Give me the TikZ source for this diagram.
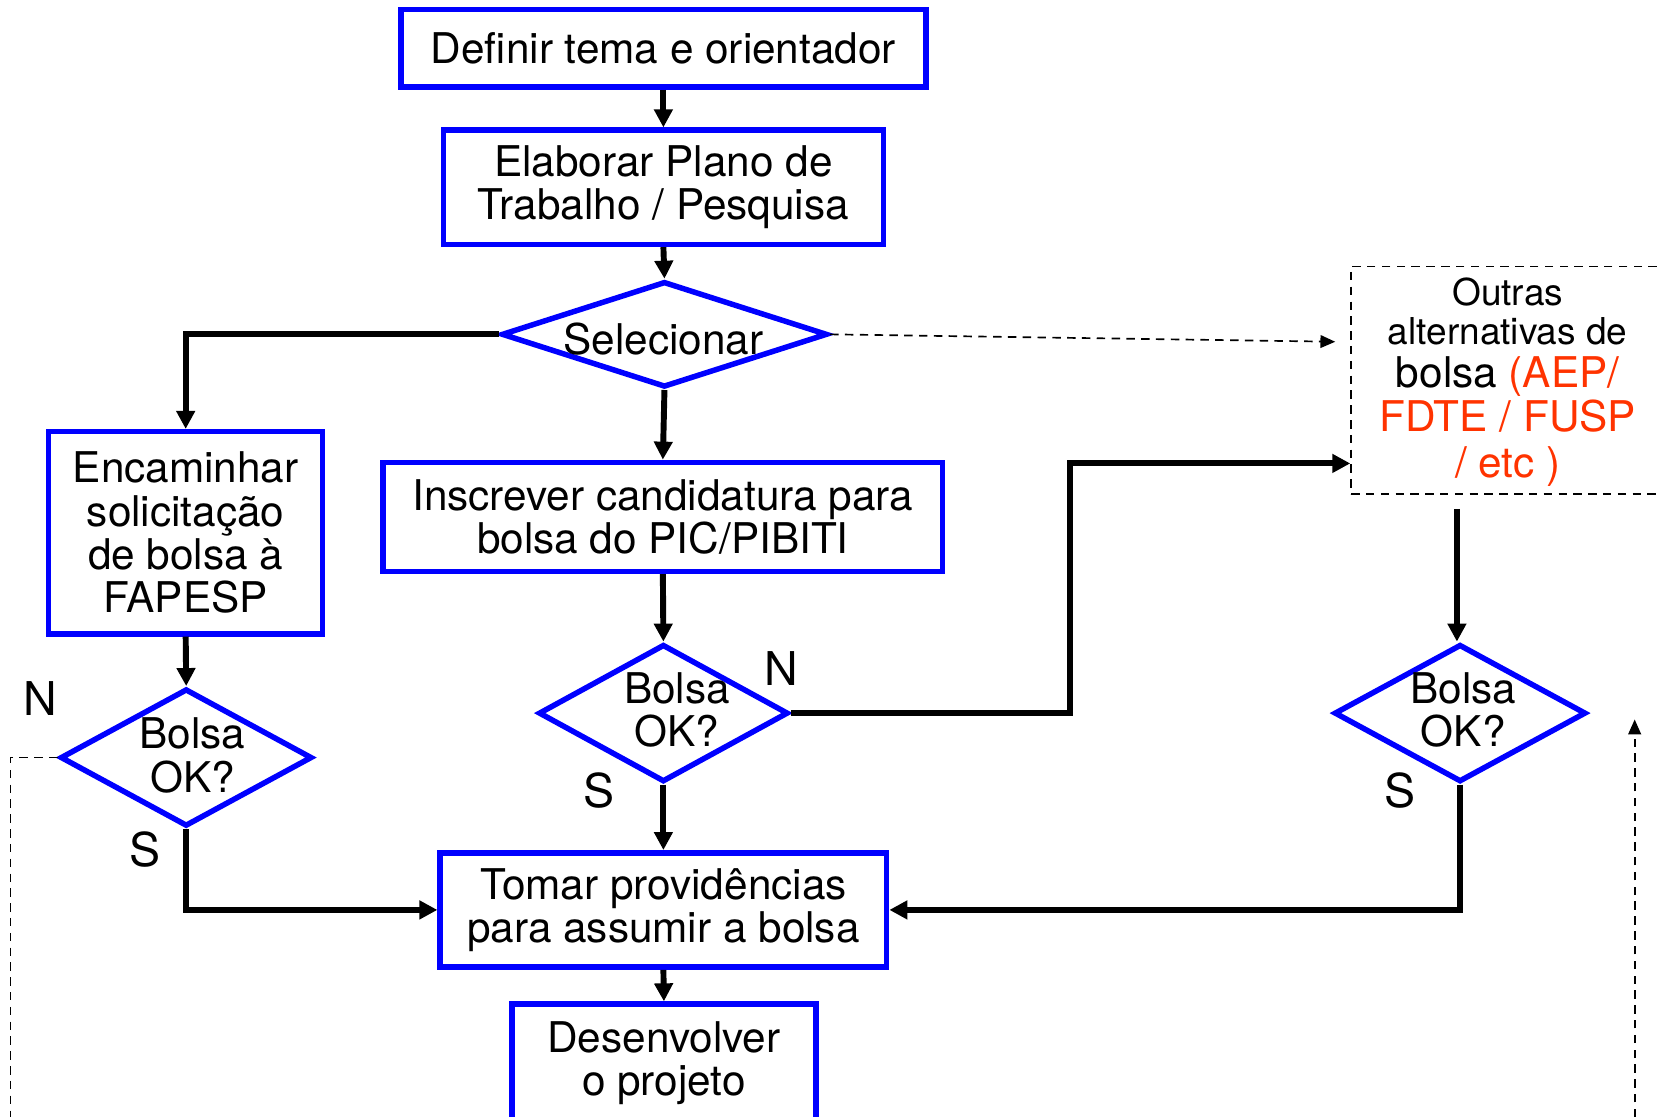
\documentclass[tikz,border=0pt]{standalone}
\usepackage{fontspec}
\setmainfont{TeX Gyre Heros}
\usetikzlibrary{shapes.geometric,arrows.meta}
\definecolor{boxblue}{RGB}{0,0,255}
\definecolor{altred}{RGB}{255,51,0}
\newcommand{\smallalt}{\fontsize{17.5}{18}\selectfont}
\begin{document}
\begin{tikzpicture}[x=0.5pt,y=-0.5pt,
  box/.style={draw=boxblue,line width=2.6pt,rectangle,align=center,inner sep=0pt,font=\fontsize{20}{20.5}\selectfont},
  dia/.style={draw=boxblue,line width=2.6pt,diamond,inner sep=0pt},
  dtext/.style={align=center,inner sep=0pt,font=\fontsize{20}{20.5}\selectfont},
  lbl/.style={inner sep=0pt,font=\fontsize{22}{22}\selectfont},
  flow/.style={line width=2.8pt,-{Triangle[length=8.5pt,width=8.5pt]}},
  dflow/.style={line width=0.8pt,dash pattern=on 4pt off 3pt,-{Triangle[length=7pt,width=6pt]}},
  dplain/.style={line width=0.8pt,dash pattern=on 4pt off 3pt}]
\useasboundingbox (0,0) rectangle (1568,1055);

% boxes
\node[box,minimum width=248pt,minimum height=36.5pt] (def) at (627,45.5) {Definir tema e orientador};
\node[box,minimum width=208pt,minimum height=54pt] (ela) at (627,177) {Elaborar Plano de\\Trabalho / Pesquisa};
\node[dia,minimum width=154pt,minimum height=50pt] (sel) at (628,316) {};
\node[dtext] (selt) at (627,320) {Selecionar};
\node[box,minimum width=129.5pt,minimum height=95.5pt] (enc) at (175.5,503.5) {Encaminhar\\solicitação\\de bolsa à\\FAPESP};
\node[box,minimum width=264.5pt,minimum height=51.5pt] (ins) at (626.5,488.5) {Inscrever candidatura para\\bolsa do PIC/PIBITI};
\node[dia,minimum width=119pt,minimum height=65pt] (ld) at (176,716) {};
\node[dtext] (ldt) at (182,714) {Bolsa\\OK?};
\node[dia,minimum width=118pt,minimum height=65pt] (md) at (627,674) {};
\node[dtext] (mdt) at (640,671) {Bolsa\\OK?};
\node[dia,minimum width=119pt,minimum height=65pt] (rd) at (1380,674) {};
\node[dtext] (rdt) at (1383,671) {Bolsa\\OK?};
\node[box,minimum width=211pt,minimum height=54pt] (tom) at (627,860) {Tomar providências\\para assumir a bolsa};
\node[box,minimum width=143.5pt,minimum height=56pt] (des) at (627.5,1005) {Desenvolver\\o projeto};
\node[draw,dplain,rectangle,minimum width=148pt,minimum height=107.5pt] (out) at (1425,359.5) {};
\node[align=center,inner sep=0pt,font=\fontsize{20}{20.5}\selectfont] (outt) at (1425,361)
  {\smallalt Outras\\[-2pt]
   \smallalt alternativas de\\[-0.5pt]
   bolsa \textcolor{altred}{(AEP/}\\[0.5pt]
   \textcolor{altred}{FDTE / FUSP}\\[1pt]
   \textcolor{altred}{/ etc )}};

% labels
\node[lbl] (nm) at (738,632) {N};
\node[lbl] (sm) at (566,747) {S};
\node[lbl] (sl) at (137,803) {S};
\node[lbl] (sr) at (1323,747) {S};
\node[lbl] (nl) at (38,660) {N};

% helper coordinates
\coordinate (dtip) at (1262,323);
\coordinate (nbend) at (1011,438);
\coordinate (otail) at (1377,481);
\coordinate (lbot) at (10,1070);
\coordinate (rbot) at (1545,1070);
\coordinate (rtop) at (1545,680);

% connectors
\draw[flow] (def.south) -- (ela.north);
\draw[flow] (ela.south) -- (sel.north);
\draw[flow] (sel.west) -| (enc.north);
\draw[flow] (sel.south) -- (ins.north);
\draw[dflow] (sel.east) -- (dtip);
\draw[flow] (enc.south) -- (ld.north);
\draw[flow] (ins.south) -- (md.north);
\draw[flow] (md.east) -| (nbend) -- (nbend -| out.west);
\draw[flow] (md.south) -- (tom.north);
\draw[flow] (ld.south) |- (tom.west);
\draw[flow] (rd.south) |- (tom.east);
\draw[flow] (otail) -- (otail |- rd.north);
\draw[flow] (tom.south) -- (des.north);
\draw[dplain] (ld.west) -| (lbot);
\draw[dflow] (rbot) -- (rtop);
\end{tikzpicture}
\end{document}
